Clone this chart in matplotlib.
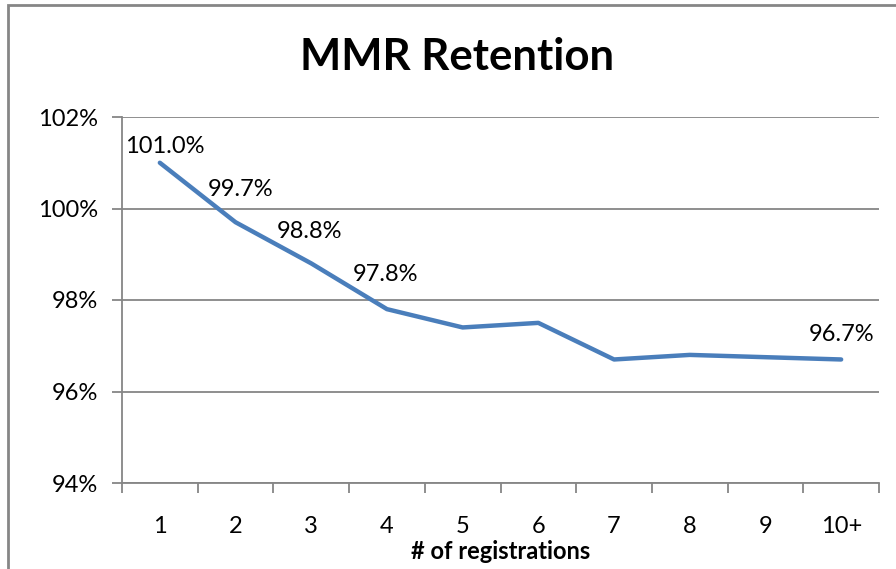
import matplotlib.pyplot as plt
from matplotlib.patches import Rectangle

categories = ["1", "2", "3", "4", "5", "6", "7", "8", "9", "10+"]
retention = [101.0, 99.7, 98.8, 97.8, 97.4, 97.5, 96.7, 96.8, 96.75, 96.7]
labelled = [0, 1, 2, 3, 9]
label_text = ["101.0%", "99.7%", "98.8%", "97.8%", "96.7%"]
# label offsets from the point, in pixels (dx, dy)
label_offsets = [(5, 16), (5, 33), (-2, 32), (-1, 35), (0, 25)]

plt.rcParams['font.family'] = ['Lato', 'DejaVu Sans']
grey = '#868686'
blue = '#4A7EBB'
fs = 17

fig = plt.figure(figsize=(8.96, 5.69), dpi=100)
ax = fig.add_axes([122 / 896, 1 - 483 / 569, (879 - 122) / 896, (483 - 117) / 569])

x = list(range(1, len(categories) + 1))
ax.plot(x, retention, color=blue, lw=3.2, solid_capstyle='round', solid_joinstyle='round', zorder=3)

px = 72 / fig.dpi
for i, txt, (dx, dy) in zip(labelled, label_text, label_offsets):
    ax.annotate(txt, (x[i], retention[i]), xytext=(dx * px, dy * px), textcoords='offset points',
                ha='center', va='center', fontsize=fs, color='black', zorder=4)

ax.set_ylim(94, 102)
ax.set_yticks([94, 96, 98, 100, 102])
ax.set_yticklabels(["94%", "96%", "98%", "100%", "102%"])
ax.yaxis.grid(True, color=grey, lw=1.3)
ax.set_axisbelow(True)

ax.set_xlim(0.5, len(categories) + 0.5)
ax.set_xticks([i + 0.5 for i in range(len(categories) + 1)])
ax.set_xticklabels([])
ax.set_xticks(x, minor=True)
ax.set_xticklabels(categories, minor=True)
ax.tick_params(axis='x', which='major', length=7, width=1.3, color=grey, direction='out')
ax.tick_params(axis='x', which='minor', length=0, pad=24, labelsize=fs)
ax.tick_params(axis='y', length=7, width=1.3, color=grey, pad=10, labelsize=fs)

for s in ['top', 'right']:
    ax.spines[s].set_visible(False)
for s in ['left', 'bottom']:
    ax.spines[s].set_color(grey)
    ax.spines[s].set_linewidth(1.3)

ax.set_xlabel("# of registrations", fontsize=fs, fontweight='bold', labelpad=2)
fig.text(457 / 896, 1 - 57 / 569, "MMR Retention", ha='center', va='center',
         fontsize=31.5, fontweight='bold')

fig.patches.append(Rectangle((8 / 896, -0.05), 1.1, 1 - 5 / 569 + 0.05, transform=fig.transFigure,
                             fill=False, edgecolor=grey, lw=2, clip_on=False))

fig.savefig("out.png", dpi=100)
